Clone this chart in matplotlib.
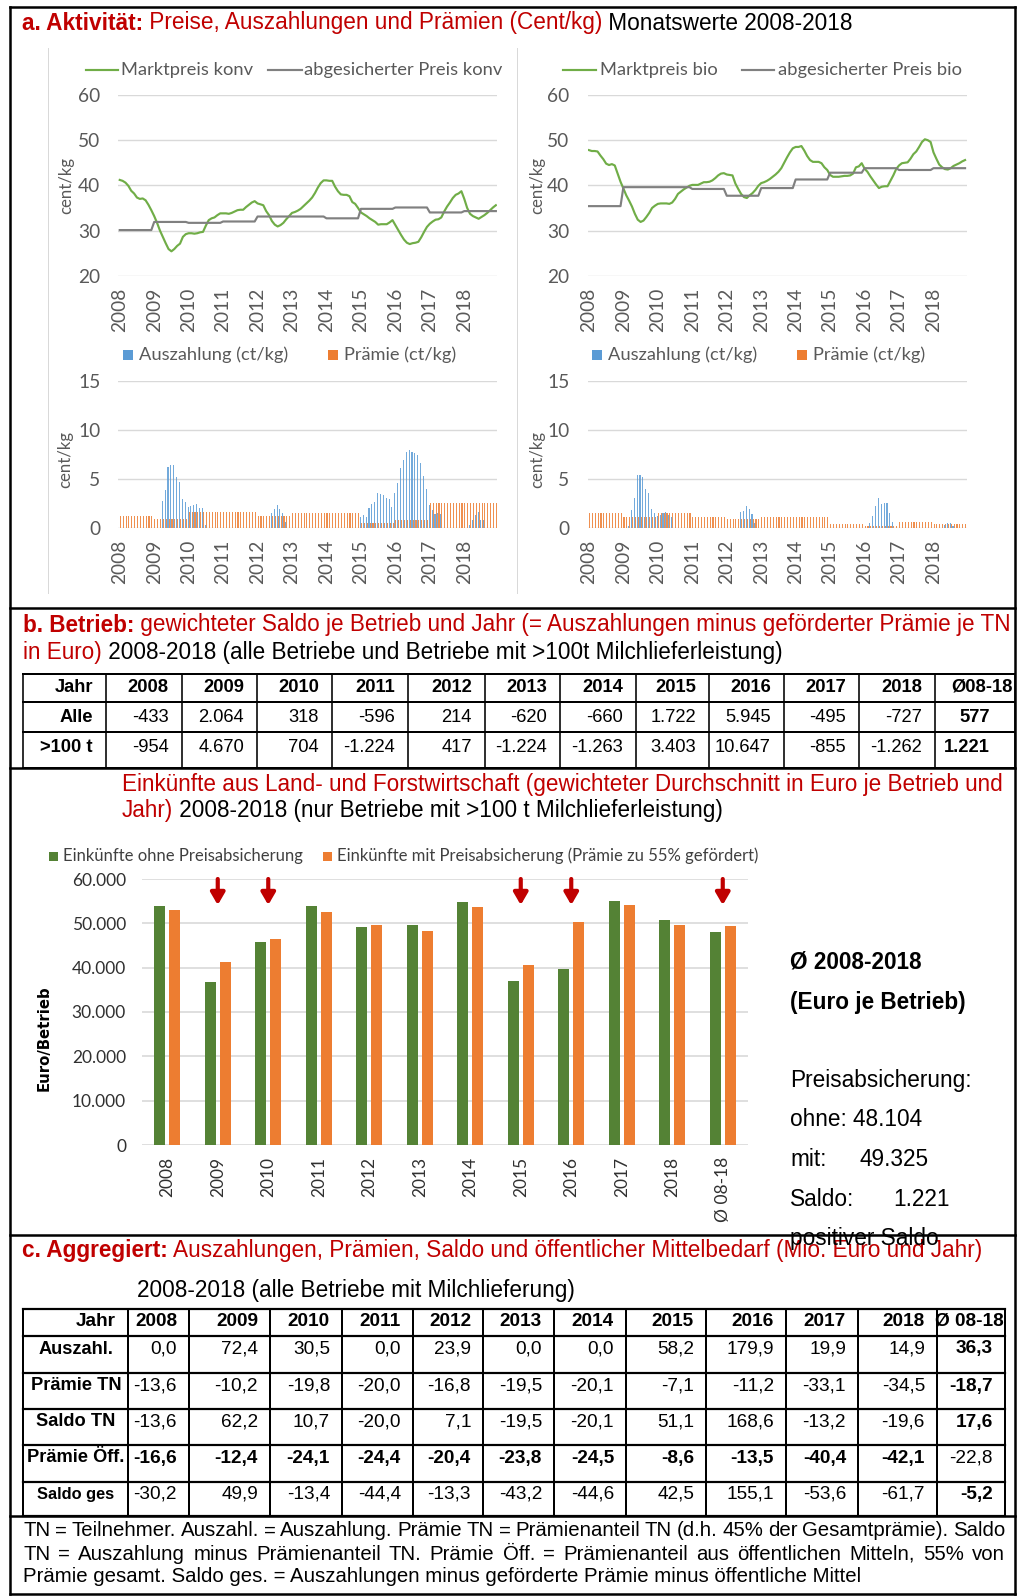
import numpy as np
import matplotlib
matplotlib.use("Agg")
import matplotlib.pyplot as plt
from matplotlib.lines import Line2D
from matplotlib.patches import Rectangle
from matplotlib.ticker import FuncFormatter

W, H, DPI = 1019, 1596, 100

# ------------------------------------------------------------------ data
years = [str(y) for y in range(2008, 2019)]

konv_market = [
    41.2, 41.0, 40.6, 39.9, 38.8, 38.2, 37.3, 37.0, 37.1, 36.7, 35.7, 34.5,
    33.2, 31.7, 30.0, 28.6, 27.2, 25.9, 25.4, 25.9, 26.6, 27.1, 28.6, 29.2,
    29.4, 29.4, 29.3, 29.4, 29.6, 29.7, 31.1, 32.3, 32.7, 32.9, 33.4, 33.8,
    33.8, 33.8, 33.7, 33.9, 34.2, 34.5, 34.6, 34.6, 35.2, 35.7, 36.2, 36.5,
    36.0, 35.8, 35.6, 34.3, 33.4, 32.1, 31.3, 30.9, 31.2, 31.7, 32.5, 33.2,
    33.9, 34.1, 34.4, 34.8, 35.4, 36.0, 36.6, 37.3, 38.3, 39.5, 40.5, 41.1,
    41.1, 41.0, 41.0, 39.7, 38.7, 38.0, 37.9, 37.9, 37.6, 36.3, 35.9, 35.0,
    34.0, 33.6, 33.2, 32.7, 32.3, 31.9, 31.3, 31.4, 31.4, 31.4, 31.8, 32.3,
    31.2, 30.1, 29.0, 28.0, 27.3, 27.0, 27.2, 27.3, 27.5, 28.5, 29.7, 30.8,
    31.5, 32.0, 32.4, 32.5, 32.9, 34.2, 35.3, 36.2, 37.2, 37.9, 38.2, 38.7,
    37.0, 35.0, 33.7, 33.2, 32.9, 32.6, 33.0, 33.4, 33.9, 34.5, 35.1, 35.6,
]
konv_secured_annual = [30.1, 31.9, 31.7, 32.0, 33.1, 33.1, 32.7, 34.8, 35.1, 34.0, 34.3]

bio_market = [
    47.8, 47.6, 47.6, 47.5, 46.6, 45.8, 44.8, 44.5, 44.7, 44.4, 42.6, 40.8,
    39.3, 37.8, 36.6, 35.3, 33.7, 32.4, 31.9, 32.2, 33.0, 33.9, 35.0, 35.5,
    35.9, 36.0, 36.0, 36.0, 35.9, 36.2, 37.0, 38.1, 38.6, 39.1, 39.5, 39.9,
    40.1, 40.1, 40.1, 40.4, 40.7, 40.7, 40.8, 41.1, 41.6, 42.2, 42.6, 42.7,
    42.4, 42.3, 42.2, 40.4, 39.2, 38.1, 37.4, 37.2, 37.8, 38.3, 39.0, 39.9,
    40.5, 40.7, 41.0, 41.4, 41.9, 42.4, 43.0, 43.8, 45.0, 46.2, 47.3, 48.2,
    48.5, 48.5, 48.7, 47.7, 46.5, 45.6, 45.2, 45.2, 45.2, 44.9, 44.0, 43.4,
    42.3, 41.9, 41.9, 41.9, 42.0, 42.1, 42.1, 42.2, 42.6, 44.0, 44.2, 44.9,
    43.7, 43.0, 42.0, 41.1, 40.2, 39.4, 39.7, 39.8, 39.8, 41.0, 42.2, 43.6,
    44.4, 44.9, 45.0, 45.1, 45.9, 46.9, 47.5, 48.5, 49.6, 50.2, 50.0, 49.6,
    47.3, 45.9, 44.6, 44.0, 43.6, 43.5, 43.8, 44.3, 44.6, 44.9, 45.3, 45.6,
]
bio_secured_annual = [35.4, 39.6, 39.6, 39.2, 37.7, 39.4, 41.3, 42.8, 43.8, 43.4, 43.8]

konv_payout = [
    0, 0, 0, 0, 0, 0, 0, 0, 0, 0, 0, 0,
    0, 0, 0, 2.76, 3.88, 6.26, 6.39, 6.43, 5.17, 4.73, 2.93, 2.62,
    2.18, 2.28, 2.31, 2.45, 2.0, 2.0, 0.3, 0, 0, 0, 0, 0,
    0, 0, 0, 0, 0, 0, 0, 0, 0, 0, 0, 0,
    0, 0, 0, 0, 0, 1.5, 1.9, 2.3, 1.9, 1.5, 0.6, 0,
    0, 0, 0, 0, 0, 0, 0, 0, 0, 0, 0, 0,
    0, 0, 0, 0, 0, 0, 0, 0, 0, 0, 0, 0,
    1.16, 1.33, 1.16, 2.0, 2.41, 2.65, 3.54, 3.44, 3.37, 3.03, 2.93, 2.14,
    3.6, 4.56, 6.09, 6.94, 7.72, 7.96, 7.79, 7.62, 7.45, 6.6, 5.31, 3.95,
    2.35, 1.84, 1.43, 1.56, 1.43, 0, 0, 0, 0, 0, 0, 0,
    0, 0, 0.3, 0.8, 1.33, 1.67, 0.82, 0.82, 0, 0, 0, 0,
]
konv_premium_annual = [1.24, 0.92, 1.6, 1.6, 1.24, 1.5, 1.5, 0.52, 0.83, 2.54, 2.54]

bio_payout = [
    0, 0, 0, 0, 0, 0, 0, 0, 0, 0, 0, 0,
    0, 0, 0.2, 1.84, 3.03, 5.41, 5.41, 5.17, 3.95, 3.54, 1.9, 1.5,
    1.22, 1.33, 1.5, 1.67, 1.33, 1.09, 0, 0, 0, 0, 0, 0,
    0, 0, 0, 0, 0, 0, 0, 0, 0, 0, 0, 0,
    0, 0, 0, 0, 0, 1.6, 1.73, 2.24, 1.9, 1.43, 0.54, 0,
    0, 0, 0, 0, 0, 0, 0, 0, 0, 0, 0, 0,
    0, 0, 0, 0, 0, 0, 0, 0, 0, 0, 0, 0,
    0, 0, 0, 0, 0, 0, 0, 0, 0, 0, 0, 0,
    0, 0, 0.54, 1.26, 2.24, 3.03, 2.45, 2.52, 2.52, 1.5, 0.61, 0,
    0, 0, 0, 0, 0, 0, 0, 0, 0, 0, 0, 0,
    0, 0, 0, 0, 0.3, 0.5, 0.5, 0.2, 0, 0, 0, 0,
]
bio_premium_annual = [1.5, 1.16, 1.5, 1.16, 0.92, 1.09, 1.09, 0.37, 0.2, 0.61, 0.37]

income_cats = years + ["Ø 08-18"]
income_without = [54000, 36700, 45800, 53800, 49100, 49700, 54900, 37000, 39800, 55100, 50800, 48104]
income_with = [53000, 41300, 46500, 52500, 49700, 48300, 53600, 40600, 50400, 54100, 49700, 49325]
arrow_cats = ["2009", "2010", "2015", "2016", "Ø 08-18"]
saldo_avg = 1221

tb_header = ["Jahr"] + years + ["Ø08-18"]
tb_alle = ["Alle", "-433", "2.064", "318", "-596", "214", "-620", "-660", "1.722", "5.945", "-495", "-727", "577"]
tb_100t = [">100 t", "-954", "4.670", "704", "-1.224", "417", "-1.224", "-1.263", "3.403", "10.647", "-855", "-1.262", "1.221"]

tc_header = ["Jahr"] + years + ["Ø 08-18"]
tc_auszahl = ["Auszahl.", "0,0", "72,4", "30,5", "0,0", "23,9", "0,0", "0,0", "58,2", "179,9", "19,9", "14,9", "36,3"]
tc_praemie_tn = ["Prämie TN", "-13,6", "-10,2", "-19,8", "-20,0", "-16,8", "-19,5", "-20,1", "-7,1", "-11,2", "-33,1", "-34,5", "-18,7"]
tc_saldo_tn = ["Saldo TN", "-13,6", "62,2", "10,7", "-20,0", "7,1", "-19,5", "-20,1", "51,1", "168,6", "-13,2", "-19,6", "17,6"]
tc_praemie_oeff = ["Prämie Öff.", "-16,6", "-12,4", "-24,1", "-24,4", "-20,4", "-23,8", "-24,5", "-8,6", "-13,5", "-40,4", "-42,1", "-22,8"]
tc_saldo_ges = ["Saldo ges", "-30,2", "49,9", "-13,4", "-44,4", "-13,3", "-43,2", "-44,6", "42,5", "155,1", "-53,6", "-61,7", "-5,2"]

# ------------------------------------------------------------------ style
RED = "#C00000"
GREEN = "#70AD47"
DKGREEN = "#548235"
GREY = "#808080"
BLUE = "#5B9BD5"
ORANGE = "#ED7D31"
GRID = "#D9D9D9"
TXT = "#595959"
LIB = "Liberation Sans"
CHF = "Lato"

fig = plt.figure(figsize=(W / DPI, H / DPI), dpi=DPI)
fig.patch.set_facecolor("white")
R = fig.canvas.get_renderer()


def X(px):
    return px / W


def Y(py):
    return 1 - py / H


def axpx(x0, y0, x1, y1):
    return fig.add_axes([X(x0), Y(y1), (x1 - x0) / W, (y1 - y0) / H])


def hline(x0, x1, y, lw=2.0, color="black"):
    fig.add_artist(Line2D([X(x0), X(x1)], [Y(y), Y(y)], lw=lw * 72 / DPI,
                          color=color, solid_capstyle="projecting"))


def vline(x, y0, y1, lw=2.0, color="black"):
    fig.add_artist(Line2D([X(x), X(x)], [Y(y0), Y(y1)], lw=lw * 72 / DPI,
                          color=color, solid_capstyle="projecting"))


def sw(s, size, family, weight="normal"):
    t = fig.text(0, 0, s + "|", fontsize=size, family=family, weight=weight)
    a = t.get_window_extent(R).width
    t.set_text("|")
    b = t.get_window_extent(R).width
    t.remove()
    return a - b


def fit(segs, target, family, base=12.0):
    tot = sum(sw(s, base, family, w) for s, c, w in segs)
    return base * target / tot


def rich(x, y, segs, size, family=LIB):
    cx = x
    for s, c, w in segs:
        fig.text(X(cx), Y(y), s, fontsize=size, family=family, weight=w,
                 color=c, va="center", ha="left")
        cx += sw(s, size, family, w)


def txt(x, y, s, size, family=LIB, weight="normal", color="black", ha="left", **kw):
    fig.text(X(x), Y(y), s, fontsize=size, family=family, weight=weight,
             color=color, ha=ha, va="center", **kw)


def de(v):
    return f"{int(round(v)):,}".replace(",", ".")


# ------------------------------------------------------------------ frame
hline(10, 1015, 7, 2.5)
hline(10, 1015, 1594, 2.5)
vline(10, 7, 1594, 2.5)
vline(1015, 7, 1594, 2.5)
for yy in (608, 768, 1235, 1516):
    hline(10, 1015, yy, 2.5)
vline(48, 48, 593, 1, GRID)
vline(517, 48, 593, 1, GRID)

# ------------------------------------------------------------------ section a
sa = [("a. Aktivität:", RED, "bold"),
      (" Preise, Auszahlungen und Prämien (Cent/kg)", RED, "normal"),
      (" Monatswerte 2008-2018", "black", "normal")]
rich(22, 23, sa, fit(sa, 831, LIB))

CH = 13.8
leg_size = fit([("abgesicherter Preis konv", "k", "normal")], 198, CHF)
ylab_size = fit([("cent/kg", "k", "normal")], 57, CHF)
months = np.arange(len(konv_market))
tick_idx = months[::12]


def style_axis(ax, ylim, yticks):
    ax.set_ylim(*ylim)
    ax.set_yticks(yticks)
    ax.set_xlim(-0.5, len(months) - 0.5)
    ax.set_xticks(tick_idx)
    ax.set_xticklabels(years, rotation=90, family=CHF, fontsize=CH, color=TXT)
    for lab in ax.get_yticklabels():
        lab.set_family(CHF)
        lab.set_fontsize(CH)
        lab.set_color(TXT)
    ax.grid(axis="y", color=GRID, lw=1.0)
    ax.set_axisbelow(True)
    for s in ax.spines.values():
        s.set_visible(False)
    ax.tick_params(axis="y", length=0, pad=13)
    ax.tick_params(axis="x", length=0, pad=8.5)
    ax.set_facecolor("none")


def line_panel(x0, x1, market, secured_annual, labels, legx, ylab_x):
    ax = axpx(x0, 95, x1, 275.7)
    ax.plot(months, market, color=GREEN, lw=1.55)
    ax.plot(months, np.repeat(secured_annual, 12), color=GREY, lw=1.55)
    style_axis(ax, (20, 60), [20, 30, 40, 50, 60])
    (g0, g1, t0, k0, k1, t1) = legx
    fig.add_artist(Line2D([X(g0), X(g1)], [Y(70), Y(70)], color=GREEN, lw=1.55))
    txt(t0, 70, labels[0], leg_size, CHF, color=TXT)
    fig.add_artist(Line2D([X(k0), X(k1)], [Y(70), Y(70)], color=GREY, lw=1.55))
    txt(t1, 70, labels[1], leg_size, CHF, color=TXT)
    txt(ylab_x, 185, "cent/kg", ylab_size, CHF, color=TXT, ha="center", rotation=90)


line_panel(118.3, 497.3, konv_market, konv_secured_annual,
           ["Marktpreis konv", "abgesicherter Preis konv"],
           (86, 118, 121, 268, 302, 304), 66)
line_panel(587.5, 966.5, bio_market, bio_secured_annual,
           ["Marktpreis bio", "abgesicherter Preis bio"],
           (563, 596, 600, 742, 774, 778), 537)

bar_leg_size = fit([("Auszahlung (ct/kg)", "k", "normal")], 148, CHF)


def bar_panel(x0, x1, payout, premium_annual, legx, ylab_x):
    ax = axpx(x0, 381, x1, 528)
    ax.bar(months - 0.2, payout, width=0.38, color=BLUE, lw=0, alpha=0.85)
    ax.bar(months + 0.2, np.repeat(premium_annual, 12), width=0.38,
           color=ORANGE, lw=0, alpha=0.85)
    style_axis(ax, (0, 15), [0, 5, 10, 15])
    (b0, bt, o0, ot) = legx
    fig.add_artist(Rectangle((X(b0), Y(360)), 10 / W, 10 / H, color=BLUE, lw=0))
    txt(bt, 355, "Auszahlung (ct/kg)", bar_leg_size, CHF, color=TXT)
    fig.add_artist(Rectangle((X(o0), Y(360)), 10 / W, 10 / H, color=ORANGE, lw=0))
    txt(ot, 355, "Prämie (ct/kg)", bar_leg_size, CHF, color=TXT)
    txt(ylab_x, 460, "cent/kg", ylab_size, CHF, color=TXT, ha="center", rotation=90)


bar_panel(118.3, 497.3, konv_payout, konv_premium_annual, (123, 139, 328, 344), 65)
bar_panel(587.5, 966.5, bio_payout, bio_premium_annual, (592, 608, 797, 813), 537)

# ------------------------------------------------------------------ section b
sb1 = [("b. Betrieb:", RED, "bold"),
       (" gewichteter Saldo je Betrieb und Jahr (= Auszahlungen minus geförderter Prämie je TN", RED, "normal")]
sbs = fit(sb1, 989, LIB)
rich(23, 625, sb1, sbs)
rich(23, 652, [("in Euro)", RED, "normal"),
               (" 2008-2018 (alle Betriebe und Betriebe mit >100t Milchlieferleistung)", "black", "normal")], sbs)

tb_cols = [23, 106, 182, 257, 332, 408, 485, 560, 636, 709, 784, 859, 935, 1015]
tb_rowsy = [674, 702, 732, 768]
for yy in tb_rowsy:
    hline(tb_cols[0], tb_cols[-1], yy, 2.0)
for xx in tb_cols:
    vline(xx, tb_rowsy[0], tb_rowsy[-1], 1.6)
tsz = fit([("-1.224", "k", "normal")], 52, LIB)
for r, (row, yy) in enumerate(zip([tb_header, tb_alle, tb_100t], [687, 718, 747])):
    for j, val in enumerate(row):
        if j == 12:
            xr = 1013 if r == 0 else 990
        else:
            xr = tb_cols[j + 1] - 13
        bold = (r == 0) or (j == 0) or (j == 12)
        txt(xr, yy, val, tsz, LIB, "bold" if bold else "normal", ha="right")

# ------------------------------------------------------------------ middle chart
sm1 = [("Einkünfte aus Land- und Forstwirtschaft (gewichteter Durchschnitt in Euro je Betrieb und", RED, "normal")]
sms = fit(sm1, 883, LIB)
rich(122, 785, sm1, sms)
rich(122, 810, [("Jahr)", RED, "normal"),
                (" 2008-2018 (nur Betriebe mit >100 t Milchlieferleistung)", "black", "normal")], sms)

mleg = fit([("Einkünfte ohne Preisabsicherung", "k", "normal")], 240, CHF)
fig.add_artist(Rectangle((X(49), Y(861)), 9 / W, 9 / H, color=DKGREEN, lw=0))
txt(63, 856, "Einkünfte ohne Preisabsicherung", mleg, CHF, color="#404040")
fig.add_artist(Rectangle((X(323), Y(861)), 9 / W, 9 / H, color=ORANGE, lw=0))
txt(337, 856, "Einkünfte mit Preisabsicherung (Prämie zu 55% gefördert)", mleg, CHF, color="#404040")

MT = 12.5
axm = axpx(142, 879, 748, 1145)
idx = np.arange(len(income_cats))
axm.bar(idx - 0.145, income_without, width=0.215, color=DKGREEN, lw=0)
axm.bar(idx + 0.145, income_with, width=0.215, color=ORANGE, lw=0)
axm.set_xlim(-0.5, len(income_cats) - 0.5)
axm.set_ylim(0, 60000)
axm.set_yticks(np.arange(0, 60001, 10000))
axm.yaxis.set_major_formatter(FuncFormatter(lambda v, p: de(v)))
axm.set_xticks(idx)
axm.set_xticklabels(income_cats, rotation=90, family=CHF, fontsize=MT, color="#303030")
for lab in axm.get_yticklabels():
    lab.set_family(CHF)
    lab.set_fontsize(MT)
    lab.set_color("#303030")
axm.grid(axis="y", color=GRID, lw=1.2)
axm.set_axisbelow(True)
for s in axm.spines.values():
    s.set_visible(False)
axm.tick_params(length=0)
axm.tick_params(axis="y", pad=11.5)
axm.tick_params(axis="x", pad=8.5)
top = axm.get_ylim()[1]
for c in arrow_cats:
    i = income_cats.index(c)
    axm.annotate("", xy=(i, top * (1 - 26 / 266)), xytext=(i, top),
                 arrowprops=dict(arrowstyle="-|>,head_length=0.6,head_width=0.35",
                                 color=RED, lw=3.0, mutation_scale=12,
                                 shrinkA=0, shrinkB=0),
                 annotation_clip=False)
fig.text(X(44), Y(1038), "Euro/Betrieb", fontsize=10.7, family="DejaVu Sans",
         weight="bold", rotation=90, ha="center", va="center", color="black")

rb = fit([("(Euro je Betrieb)", "k", "bold")], 176, LIB)
txt(790, 962, "Ø 2008-2018", rb, LIB, "bold")
txt(790, 1002, "(Euro je Betrieb)", rb, LIB, "bold")
rn = fit([("Preisabsicherung:", "k", "normal")], 181, LIB)
txt(790, 1080, "Preisabsicherung:", rn)
txt(790, 1120, "ohne: " + de(income_without[-1]), rn)
txt(790, 1159, "mit:", rn)
txt(859, 1159, de(income_with[-1]), rn)
txt(790, 1199, "Saldo:", rn)
txt(893, 1199, de(saldo_avg), rn)

# ------------------------------------------------------------------ section c
sc = [("c. Aggregiert:", RED, "bold"),
      (" Auszahlungen, Prämien, Saldo und öffentlicher Mittelbedarf (Mio. Euro und Jahr)", RED, "normal")]
rich(22, 1250, sc, fit(sc, 964, LIB))
txt(790, 1238, "positiver Saldo", rn)
txt(137, 1290, "2008-2018 (alle Betriebe mit Milchlieferung)",
    fit([("2008-2018 (alle Betriebe mit Milchlieferung)", "k", "normal")], 439, LIB))

tc_cols = [23, 128, 189, 270, 342, 413, 483, 554, 626, 706, 786, 858, 937, 1005]
tc_rowsy = [1309, 1336, 1373, 1409, 1445, 1482, 1516]
for yy in tc_rowsy:
    hline(tc_cols[0], tc_cols[-1], yy, 2.2)
for xx in tc_cols:
    vline(xx, tc_rowsy[0], tc_rowsy[-1], 2.0)
csz = fit([("-13,6", "k", "normal")], 43, LIB)
c_rows = [tc_header, tc_auszahl, tc_praemie_tn, tc_saldo_tn, tc_praemie_oeff, tc_saldo_ges]
c_y = [1321, 1349, 1386, 1422, 1458, 1494]
for r, (row, yy) in enumerate(zip(c_rows, c_y)):
    for j, val in enumerate(row):
        if r == 0:
            bold = True
        elif j == 0:
            bold = True
        elif r == 4:
            bold = j != 12
        else:
            bold = j == 12
        w = "bold" if bold else "normal"
        if j == 0 and r > 0:
            size = csz * (0.86 if r == 5 else 0.96)
            txt(76, yy, val, size, LIB, w, ha="center")
        elif j == 0:
            txt(116, yy, val, csz, LIB, w, ha="right")
        elif j == 12:
            txt(1004 if r == 0 else 993, yy, val, csz, LIB, w, ha="right")
        else:
            txt(tc_cols[j + 1] - 12, yy, val, csz, LIB, w, ha="right")

# ------------------------------------------------------------------ footer
f1 = "TN = Teilnehmer. Auszahl. = Auszahlung. Prämie TN = Prämienanteil TN (d.h. 45% der Gesamtprämie). Saldo"
f2 = "TN = Auszahlung minus Prämienanteil TN. Prämie Öff. = Prämienanteil aus öffentlichen Mitteln, 55% von"
f3 = "Prämie gesamt. Saldo ges. = Auszahlungen minus geförderte Prämie minus öffentliche Mittel"
fsz = fit([(f3, "k", "normal")], 837, LIB)


def justified(x0, x1, y, text, size):
    words = text.split(" ")
    ws = [sw(w, size, LIB) for w in words]
    gap = (x1 - x0 - sum(ws)) / (len(words) - 1)
    cx = x0
    for w, wd in zip(words, ws):
        txt(cx, y, w, size)
        cx += wd + gap


justified(23, 1005, 1531, f1, fsz)
justified(23, 1005, 1554, f2, fsz)
txt(23, 1577, f3, fsz)

fig.savefig("out.png", dpi=DPI, facecolor="white")
